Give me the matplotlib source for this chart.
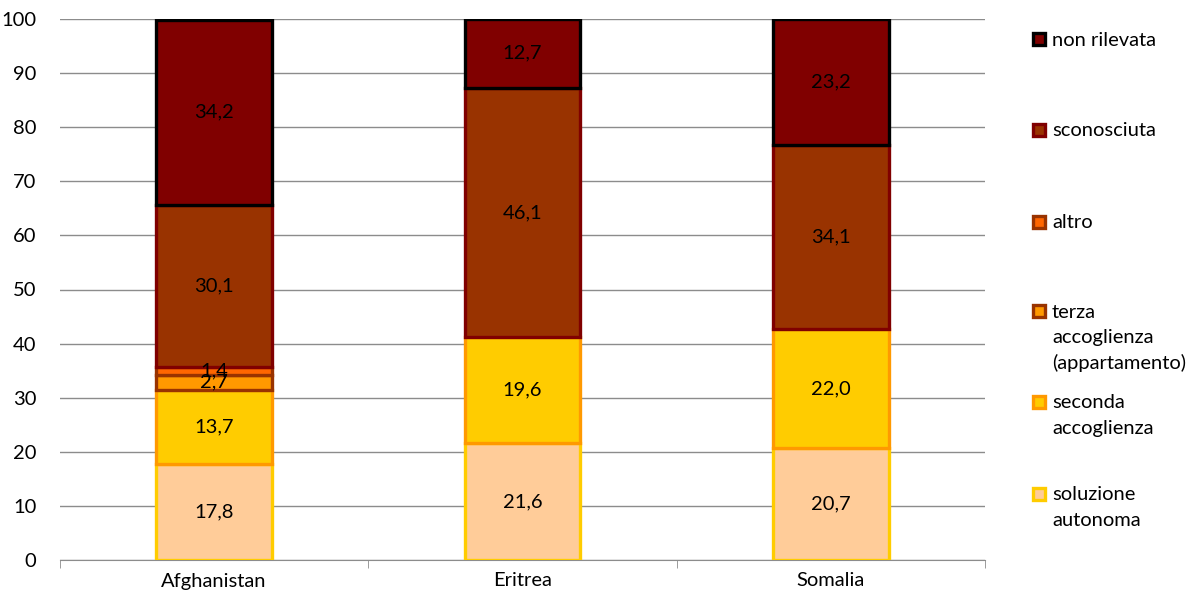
import numpy as np
import matplotlib.pyplot as plt
from matplotlib.patches import Rectangle

plt.rcParams['font.family'] = ['Lato', 'DejaVu Sans']

countries = ['Afghanistan', 'Eritrea', 'Somalia']
series = ['soluzione autonoma', 'seconda accoglienza', 'terza accoglienza (appartamento)',
          'altro', 'sconosciuta', 'non rilevata']
soluzione = [17.8, 21.6, 20.7]
seconda = [13.7, 19.6, 22.0]
terza = [2.7, 0.0, 0.0]
altro = [1.4, 0.0, 0.0]
sconosciuta = [30.1, 46.1, 34.1]
non_rilevata = [34.2, 12.7, 23.2]
values = [soluzione, seconda, terza, altro, sconosciuta, non_rilevata]

fills = ['#FFCC99', '#FFCC00', '#FF9900', '#FF6600', '#993300', '#800000']
edges = ['#FFCC00', '#FF9900', '#993300', '#993300', '#800000', '#000000']

# legend text, split the way it wraps in the original
legend_lines = [['soluzione', 'autonoma'], ['seconda', 'accoglienza'],
                ['terza', 'accoglienza', '(appartamento)'], ['altro'],
                ['sconosciuta'], ['non rilevata']]
legend_y = [494, 402, 311, 222, 130, 39]   # pixel rows of the handles

FS = 14.5
W, H = 1196, 606
fig = plt.figure(figsize=(W / 100, H / 100), dpi=100)
ax = fig.add_axes([60 / W, 1 - 560 / H, (985 - 60) / W, (560 - 19) / H])

x = np.arange(len(countries))
bottom = np.zeros(len(countries))
for vals, fc, ec in zip(values, fills, edges):
    vals = np.array(vals)
    mask = vals > 0
    ax.bar(x[mask], vals[mask], width=0.375, bottom=bottom[mask], color=fc,
           edgecolor=ec, linewidth=2.4, zorder=3)
    for xi, v, b in zip(x[mask], vals[mask], bottom[mask]):
        ax.text(xi, b + v / 2, f'{v:.1f}'.replace('.', ','), ha='center', va='center',
                fontsize=FS, color='black', zorder=5)
    bottom += vals

ax.set_xlim(-0.5, 2.5)
ax.set_ylim(0, 100)
ax.set_yticks(np.arange(0, 101, 10))
ax.yaxis.grid(True, color='#8c8c8c', linewidth=1)
ax.set_axisbelow(True)
for s in ['top', 'right', 'left']:
    ax.spines[s].set_visible(False)
ax.spines['bottom'].set_color('#8c8c8c')
ax.tick_params(axis='y', length=0, labelsize=FS, pad=17)
ax.set_xticks(x)
ax.set_xticklabels(countries, fontsize=FS)
ax.tick_params(axis='x', length=0, pad=9)
ax.set_xticks([-0.5, 0.5, 1.5, 2.5], minor=True)
ax.tick_params(axis='x', which='minor', length=6, color='#8c8c8c')

# legend drawn by hand so the handle sits on the first text line
for lines, py, fc, ec in zip(legend_lines, legend_y, fills, edges):
    fig.add_artist(Rectangle((1033 / W, 1 - (py + 6) / H), 12 / W, 12 / H,
                             facecolor=fc, edgecolor=ec, linewidth=2.4,
                             transform=fig.transFigure))
    for i, line in enumerate(lines):
        fig.text(1052 / W, 1 - (py + 1 + i * 25.5) / H, line, fontsize=FS,
                 va='center', ha='left')

fig.savefig('out.png', dpi=100)
